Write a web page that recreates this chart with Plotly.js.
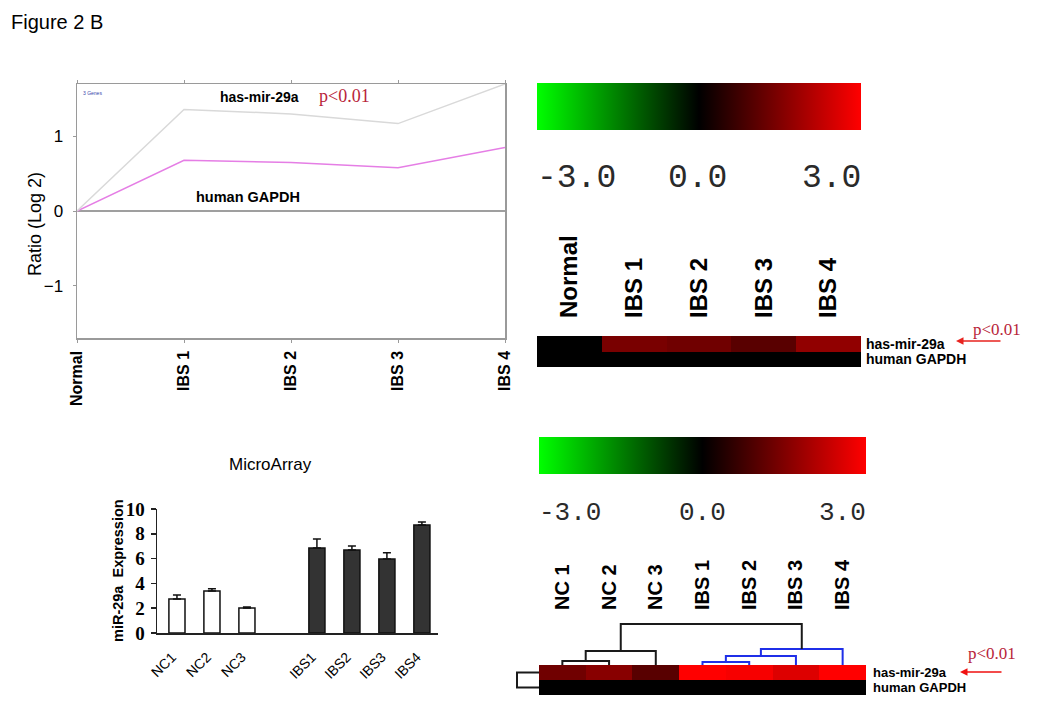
<!DOCTYPE html>
<html>
<head>
<meta charset="utf-8">
<script src="https://cdn.plot.ly/plotly-3.0.1.min.js"></script>
<style>html,body{margin:0;padding:0;background:#fff;} #chart{width:1050px;height:718px;}</style>
</head>
<body>
<div id="chart"></div>
<script>
// ---------------- data ----------------
const lineCategories = ['Normal', 'IBS 1', 'IBS 2', 'IBS 3', 'IBS 4'];
const mir29aRatio = [0, 1.36, 1.30, 1.17, 1.70];
const averageRatio = [0, 0.68, 0.65, 0.58, 0.85];
const gapdhRatio = [0, 0, 0, 0, 0];

const heatRows = ['has-mir-29a', 'human GAPDH'];
const heat1Columns = ['Normal', 'IBS 1', 'IBS 2', 'IBS 3', 'IBS 4'];
const heat1Mir = [0, 1.42, 1.32, 1.05, 1.70];
const heat1Gapdh = [0, 0, 0, 0, 0];

const barCategories = ['NC1', 'NC2', 'NC3', ' ', 'IBS1', 'IBS2', 'IBS3', 'IBS4'];
const ncLabels = ['NC1', 'NC2', 'NC3'];
const ncValues = [2.74, 3.39, 2.02];
const ncErrors = [0.32, 0.17, 0.08];
const ibsLabels = ['IBS1', 'IBS2', 'IBS3', 'IBS4'];
const ibsValues = [6.85, 6.69, 5.97, 8.71];
const ibsErrors = [0.73, 0.32, 0.50, 0.24];

const heat2Columns = ['NC 1', 'NC 2', 'NC 3', 'IBS 1', 'IBS 2', 'IBS 3', 'IBS 4'];
const heat2Mir = [1.32, 1.60, 1.03, 3.0, 2.9, 2.6, 3.0];
const heat2Gapdh = [0, 0, 0, 0, 0, 0, 0];

// hierarchical clustering of columns: [childA, childB, distance]
const colLinkage = [[0, 1, 4], [7, 2, 14], [3, 4, 3], [9, 5, 9], [10, 6, 16], [8, 11, 41]];
const rowLinkage = [[0, 1, 1]];
const colorScaleTicks = ['-3.0', '0.0', '3.0'];

// ---------------- helpers ----------------
const W = 1050, H = 718;
const fx = p => p / W;
const fy = p => 1 - p / H;
const SANS = 'Arial, Liberation Sans, sans-serif';
const SERIF = 'Times New Roman, Liberation Serif, serif';
const MONO = 'Liberation Mono, DejaVu Sans Mono, monospace';
const RED_TXT = '#b8243a';

const greenBlackRed = [[0, '#00ff00'], [0.5, '#000000'], [1, '#ff0000']];

function dendroTraces(linkage, nLeaves, leafNames, horizontal, xa, ya) {
  const pos = [], hgt = [], leaves = [];
  for (let i = 0; i < nLeaves; i++) { pos.push(i); hgt.push(0); leaves.push([i]); }
  const traces = [];
  linkage.forEach(([a, b, d]) => {
    const xa_ = pos[a], xb_ = pos[b];
    const lv = leaves[a].concat(leaves[b]);
    const allIBS = lv.every(k => leafNames[k].startsWith('IBS'));
    const color = allIBS ? '#1f2fe8' : '#1a1a1a';
    let xs = [xa_, xa_, xb_, xb_], ys = [hgt[a], d, d, hgt[b]];
    if (horizontal) { const t = xs; xs = ys; ys = t; }
    traces.push({type: 'scatter', mode: 'lines', x: xs, y: ys, xaxis: xa, yaxis: ya,
      line: {color: color, width: 2}, hoverinfo: 'skip', showlegend: false});
    pos.push((xa_ + xb_) / 2); hgt.push(d); leaves.push(lv);
  });
  return traces;
}

// ---------------- traces ----------------
const traces = [
  {type: 'scatter', mode: 'lines', x: lineCategories, y: gapdhRatio, xaxis: 'x', yaxis: 'y',
   line: {color: '#7f7f7f', width: 1.5}, name: 'human GAPDH'},
  {type: 'scatter', mode: 'lines', x: lineCategories, y: averageRatio, xaxis: 'x', yaxis: 'y',
   line: {color: '#e57ee5', width: 1.5}, name: 'average'},
  {type: 'scatter', mode: 'lines', x: lineCategories, y: mir29aRatio, xaxis: 'x', yaxis: 'y',
   line: {color: '#d9d9d9', width: 1.5}, name: 'has-mir-29a'},

  {type: 'heatmap', x: heat1Columns, y: heatRows, z: [heat1Mir, heat1Gapdh], xaxis: 'x2', yaxis: 'y2',
   colorscale: greenBlackRed, zmin: -3, zmax: 3, hoverinfo: 'skip',
   colorbar: {orientation: 'h', x: fx(699), xanchor: 'center', y: fy(83), yanchor: 'top',
     lenmode: 'pixels', len: 324, thicknessmode: 'pixels', thickness: 47, outlinewidth: 0,
     xpad: 0, ypad: 0, showticklabels: false, ticks: ''}},

  {type: 'bar', x: ncLabels, y: ncValues, xaxis: 'x3', yaxis: 'y3', width: 0.46,
   marker: {color: '#ffffff', line: {color: '#111', width: 1.5}},
   error_y: {type: 'data', array: ncErrors, arrayminus: ncErrors.map(() => 0), symmetric: false,
     color: '#111', thickness: 1.5, width: 4}},
  {type: 'bar', x: ibsLabels, y: ibsValues, xaxis: 'x3', yaxis: 'y3', width: 0.46,
   marker: {color: '#333333', line: {color: '#111', width: 1.5}},
   error_y: {type: 'data', array: ibsErrors, arrayminus: ibsErrors.map(() => 0), symmetric: false,
     color: '#111', thickness: 1.5, width: 4}},

  {type: 'heatmap', x: heat2Columns, y: heatRows, z: [heat2Mir, heat2Gapdh], xaxis: 'x4', yaxis: 'y4',
   colorscale: greenBlackRed, zmin: -3, zmax: 3, hoverinfo: 'skip',
   colorbar: {orientation: 'h', x: fx(702.5), xanchor: 'center', y: fy(437), yanchor: 'top',
     lenmode: 'pixels', len: 327, thicknessmode: 'pixels', thickness: 37, outlinewidth: 0,
     xpad: 0, ypad: 0, showticklabels: false, ticks: ''}},
].concat(
  dendroTraces(colLinkage, heat2Columns.length, heat2Columns, false, 'x5', 'y5'),
  dendroTraces(rowLinkage, heatRows.length, heatRows, true, 'x6', 'y6')
);

// ---------------- layout ----------------
const hidden = {visible: false, showgrid: false, zeroline: false, fixedrange: true};
const layout = {
  width: W, height: H, margin: {l: 0, r: 0, t: 0, b: 0},
  paper_bgcolor: '#fff', plot_bgcolor: 'rgba(0,0,0,0)',
  font: {family: SANS, color: '#000'},
  showlegend: false, barmode: 'overlay',
  xaxis: {domain: [fx(77), fx(505)], anchor: 'y', type: 'category', range: [0, 4],
    showline: true, mirror: 'ticks', linecolor: '#9a9a9a', linewidth: 1.5,
    ticks: 'outside', ticklen: 3, tickcolor: '#9a9a9a', tickangle: -90,
    tickfont: {family: SANS, size: 16, weight: 'bold', color: '#000'}, ticklabelstandoff: 2,
    showgrid: false, zeroline: false},
  yaxis: {domain: [fy(338), fy(84)], anchor: 'x', range: [-1.7, 1.7], tickvals: [-1, 0, 1],
    showline: true, mirror: true, linecolor: '#9a9a9a', linewidth: 1.5,
    ticks: 'outside', ticklen: 3, tickcolor: '#9a9a9a',
    tickfont: {family: SANS, size: 17, color: '#000'}, ticklabelstandoff: 6,
    showgrid: false, zeroline: false},

  xaxis2: {domain: [fx(537), fx(861)], anchor: 'free', position: fy(318), side: 'top',
    type: 'category', tickmode: 'array', tickvals: heat1Columns, tickangle: -90, ticks: '',
    showline: false, showgrid: false, zeroline: false,
    tickfont: {family: SANS, size: 24, weight: 'bold', color: '#000'}},
  yaxis2: {domain: [fy(367), fy(336)], anchor: 'x2', side: 'right', type: 'category',
    tickmode: 'array', tickvals: heatRows,
    autorange: 'reversed', ticks: '', showline: false, showgrid: false, zeroline: false,
    tickfont: {family: SANS, size: 14, weight: 'bold', color: '#000'}, ticklabelstandoff: 4},

  xaxis3: {domain: [fx(157), fx(438)], anchor: 'y3', type: 'category', categoryorder: 'array',
    categoryarray: barCategories, range: [-0.57, 7.46], showline: true, linecolor: '#222',
    linewidth: 1.5, ticks: '', tickangle: -45, showgrid: false, zeroline: false,
    tickfont: {family: SANS, size: 14, color: '#000'}, ticklabelstandoff: 9, ticklabelshift: -5},
  yaxis3: {domain: [fy(633), fy(509)], anchor: 'x3', range: [0, 10], dtick: 2,
    showline: true, linecolor: '#222', linewidth: 1.5, ticks: 'outside', ticklen: 5,
    tickwidth: 1.5, tickcolor: '#222', showgrid: false, zeroline: false, ticklabelstandoff: 2,
    tickfont: {family: SERIF, size: 19, weight: 'bold', color: '#000'}},

  xaxis4: {domain: [fx(539), fx(866)], anchor: 'free', position: fy(610), side: 'top',
    type: 'category', tickmode: 'array', tickvals: heat2Columns, tickangle: -90, ticks: '',
    showline: false, showgrid: false, zeroline: false,
    tickfont: {family: SANS, size: 20, weight: 'bold', color: '#000'}},
  yaxis4: {domain: [fy(695), fy(665)], anchor: 'x4', side: 'right', type: 'category',
    tickmode: 'array', tickvals: heatRows,
    autorange: 'reversed', ticks: '', showline: false, showgrid: false, zeroline: false,
    tickfont: {family: SANS, size: 13, weight: 'bold', color: '#000'}, ticklabelstandoff: 6},

  xaxis5: Object.assign({domain: [fx(539), fx(866)], anchor: 'y5', range: [-0.5, 6.5]}, hidden),
  yaxis5: Object.assign({domain: [fy(666), fy(623)], anchor: 'x5', range: [-1, 42]}, hidden),
  xaxis6: Object.assign({domain: [fx(510), fx(540)], anchor: 'y6', range: [1.318, -0.045]}, hidden),
  yaxis6: Object.assign({domain: [fy(695), fy(665)], anchor: 'x6', range: [1.5, -0.5]}, hidden),

  annotations: [
    {text: 'Figure 2 B', x: fx(9), y: fy(22), xanchor: 'left', yanchor: 'middle', showarrow: false,
     font: {family: SANS, size: 20, color: '#000'}},
    {text: '3 Genes', x: fx(81), y: fy(93), xanchor: 'left', yanchor: 'middle', showarrow: false,
     font: {family: SANS, size: 5, color: '#3344aa'}},
    {text: 'has-mir-29a', x: fx(218), y: fy(97), xanchor: 'left', yanchor: 'middle', showarrow: false,
     font: {family: SANS, size: 14, weight: 'bold', color: '#000'}},
    {text: 'p&lt;0.01', x: fx(317), y: fy(96), xanchor: 'left', yanchor: 'middle', showarrow: false,
     font: {family: SERIF, size: 18, color: RED_TXT}},
    {text: 'human GAPDH', x: fx(194), y: fy(197), xanchor: 'left', yanchor: 'middle', showarrow: false,
     font: {family: SANS, size: 14.5, weight: 'bold', color: '#000'}},
    {text: 'Ratio (Log 2)', x: fx(35), y: fy(224), xanchor: 'center', yanchor: 'middle', textangle: -90,
     showarrow: false, font: {family: SANS, size: 18, color: '#000'}},

    {text: colorScaleTicks[0], x: fx(535), y: fy(178), xanchor: 'left', yanchor: 'middle', showarrow: false,
     font: {family: MONO, size: 33, color: '#2a2a2a'}},
    {text: colorScaleTicks[1], x: fx(697), y: fy(178), xanchor: 'center', yanchor: 'middle', showarrow: false,
     font: {family: MONO, size: 33, color: '#2a2a2a'}},
    {text: colorScaleTicks[2], x: fx(863), y: fy(178), xanchor: 'right', yanchor: 'middle', showarrow: false,
     font: {family: MONO, size: 33, color: '#2a2a2a'}},

    {text: '', x: fx(956), y: fy(341), ax: 46, ay: 0, showarrow: true, arrowhead: 2, arrowsize: 1,
     arrowwidth: 1.5, arrowcolor: '#e8231f'},
    {text: 'p&lt;0.01', x: fx(971), y: fy(330), xanchor: 'left', yanchor: 'middle', showarrow: false,
     font: {family: SERIF, size: 17, color: RED_TXT}},

    {text: 'MicroArray', x: fx(270), y: fy(464), xanchor: 'center', yanchor: 'middle', showarrow: false,
     font: {family: SANS, size: 17, color: '#000'}},
    {text: 'miR-29a  Expression', x: fx(118), y: fy(571), xanchor: 'center', yanchor: 'middle',
     textangle: -90, showarrow: false, font: {family: SANS, size: 14.5, weight: 'bold', color: '#000'}},

    {text: colorScaleTicks[0], x: fx(537), y: fy(513), xanchor: 'left', yanchor: 'middle', showarrow: false,
     font: {family: MONO, size: 26, color: '#2a2a2a'}},
    {text: colorScaleTicks[1], x: fx(702), y: fy(513), xanchor: 'center', yanchor: 'middle', showarrow: false,
     font: {family: MONO, size: 26, color: '#2a2a2a'}},
    {text: colorScaleTicks[2], x: fx(868), y: fy(513), xanchor: 'right', yanchor: 'middle', showarrow: false,
     font: {family: MONO, size: 26, color: '#2a2a2a'}},

    {text: '', x: fx(960), y: fy(672), ax: 43, ay: 0, showarrow: true, arrowhead: 2, arrowsize: 1,
     arrowwidth: 1.5, arrowcolor: '#f01010'},
    {text: 'p&lt;0.01', x: fx(966), y: fy(653), xanchor: 'left', yanchor: 'middle', showarrow: false,
     font: {family: SERIF, size: 17, color: RED_TXT}},
  ].map(a => Object.assign({xref: 'paper', yref: 'paper'}, a)),
};

Plotly.newPlot('chart', traces, layout, {staticPlot: true, displayModeBar: false});
</script>
</body>
</html>
